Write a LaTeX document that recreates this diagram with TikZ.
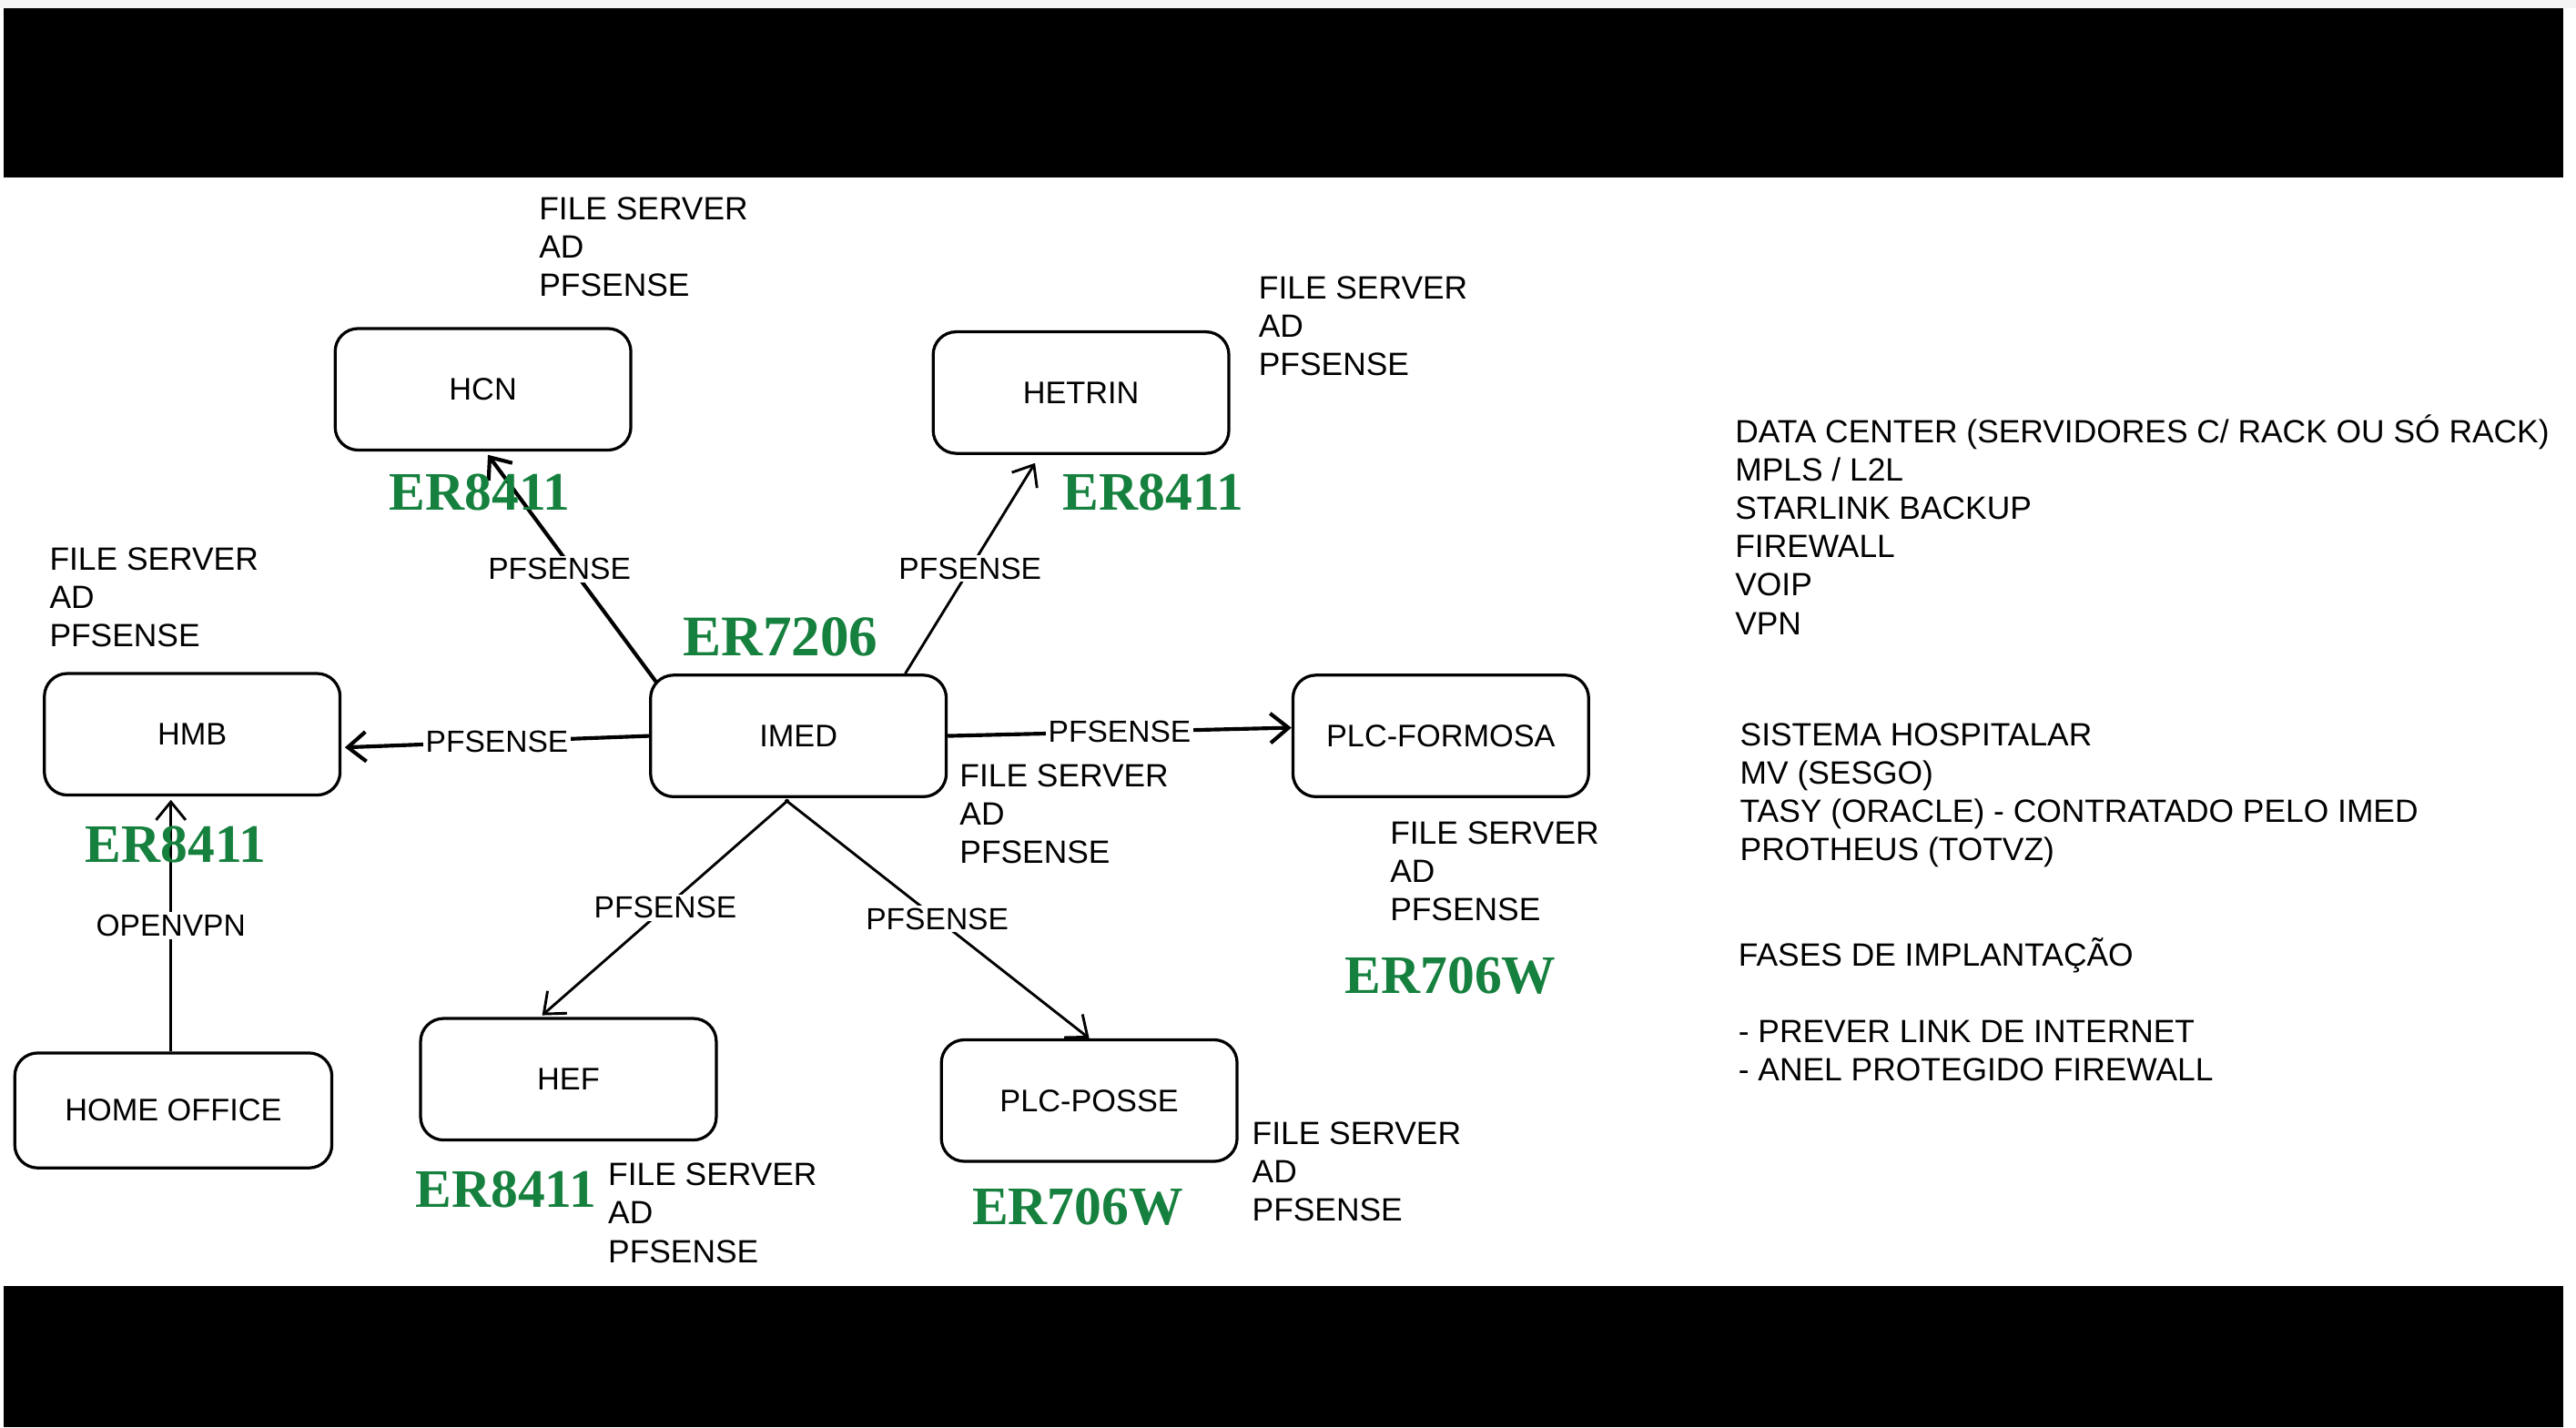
\documentclass[tikz,border=0pt]{standalone}
\usepackage{fontspec}
\setmainfont{Liberation Sans}
\newfontfamily\grnfont{Liberation Serif}
\usetikzlibrary{arrows.meta}
\definecolor{routergreen}{RGB}{22,128,62}
\definecolor{stripgray}{RGB}{244,244,244}
\begin{document}
\begin{tikzpicture}[x=1pt,y=-1pt,
  box/.style={draw, line width=1.8pt, rounded corners=14pt, minimum width=180pt, minimum height=74pt, inner sep=0pt, font=\fontsize{19}{22}\selectfont},
  note/.style={anchor=north west, inner sep=0pt, align=left, font=\fontsize{19.6}{23.3}\selectfont},
  elabel/.style={fill=white, inner sep=1.5pt, font=\fontsize{18.6}{21}\selectfont},
  model/.style={text=routergreen, inner sep=0pt, font=\grnfont\bfseries\fontsize{33}{36}\selectfont},
  link/.style={line width=1.6pt, -{Straight Barb[length=11pt,width=18pt]}},
  thicklink/.style={link, line width=2.3pt}
]
\useasboundingbox (0,0) rectangle (1568,869);
\fill[white] (0,0) rectangle (1568,869);
\fill[stripgray] (0,0) rectangle (1568,5);
\fill[black] (2,5) rectangle (1560,108);
\fill[black] (2,783) rectangle (1560,869);

% nodes
\node[box] (hcn) at (294,237) {HCN};
\node[box] (hetrin) at (658,239) {HETRIN};
\node[box] (hmb) at (117,447) {HMB};
\node[box] (imed) at (486,448) {IMED};
\node[box] (plcf) at (877,448) {PLC-FORMOSA};
\node[box] (hef) at (346,657) {HEF};
\node[box] (plcp) at (663,670) {PLC-POSSE};
\node[box, minimum width=193pt, minimum height=70pt] (home) at (105.5,676) {HOME OFFICE};

% connectors
\draw[thicklink] ([shift={(5,6)}]imed.north west) -- node[elabel, xshift=-8pt]{PFSENSE} ([shift={(3,2)}]hcn.south);
\draw[link] ([shift={(65,0)}]imed.north) -- node[elabel]{PFSENSE} ([shift={(-28,5)}]hetrin.south);
\draw[thicklink] (imed.west) -- node[elabel]{PFSENSE} ([shift={(2,8)}]hmb.east);
\draw[thicklink] (imed.east) -- node[elabel]{PFSENSE} ([shift={(0,-5)}]plcf.west);
\draw[link] ([shift={(-6,1)}]imed.south) -- node[elabel]{PFSENSE} ([shift={(-16,-1)}]hef.north);
\draw[link] ([shift={(-8,1)}]imed.south) -- node[elabel]{PFSENSE} (plcp.north);
\draw[link] ([shift={(-1.5,0)}]home.north) -- node[elabel]{OPENVPN} ([shift={(-13,2)}]hmb.south);

% notes
\node[note] (nhcn) at (328,120) {FILE SERVER\\AD\\PFSENSE};
\node[note] (nhetrin) at (766,168) {FILE SERVER\\AD\\PFSENSE};
\node[note] (nhmb) at (30,333) {FILE SERVER\\AD\\PFSENSE};
\node[note] (nimed) at (584,465) {FILE SERVER\\AD\\PFSENSE};
\node[note] (nplcf) at (846,500) {FILE SERVER\\AD\\PFSENSE};
\node[note] (nhef) at (370,708) {FILE SERVER\\AD\\PFSENSE};
\node[note] (nplcp) at (762,683) {FILE SERVER\\AD\\PFSENSE};

\node[note] (r1) at (1056,252.5) {DATA CENTER (SERVIDORES C/ RACK OU SÓ RACK)\\MPLS / L2L\\STARLINK BACKUP\\FIREWALL\\VOIP\\VPN};
\node[note] (r2) at (1059,440) {SISTEMA HOSPITALAR\\MV (SESGO)\\TASY (ORACLE) - CONTRATADO PELO IMED\\PROTHEUS (TOTVZ)};
\node[note] (r3) at (1058,570.5) {FASES DE IMPLANTAÇÃO\\[23.3pt]- PREVER LINK DE INTERNET\\- ANEL PROTEGIDO FIREWALL};

% router models
\node[model] (m1) at (292,300) {ER8411};
\node[model] (m2) at (702,300) {ER8411};
\node[model, font=\grnfont\bfseries\fontsize{35}{38}\selectfont] (m3) at (475,388) {ER7206};
\node[model] (m4) at (107,514) {ER8411};
\node[model] (m5) at (883,594) {ER706W};
\node[model] (m6) at (308,724) {ER8411};
\node[model] (m7) at (656,735) {ER706W};
\end{tikzpicture}
\end{document}
